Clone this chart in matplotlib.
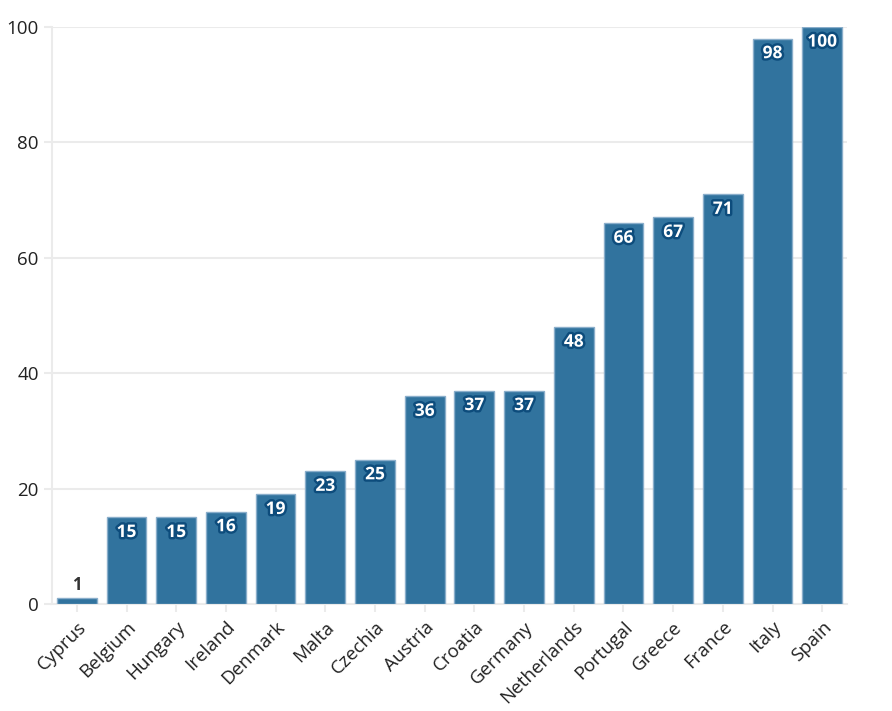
import matplotlib.pyplot as plt
import matplotlib.patheffects as pe

plt.rcParams['font.family'] = ['Open Sans', 'DejaVu Sans']

countries = ['Cyprus', 'Belgium', 'Hungary', 'Ireland', 'Denmark', 'Malta', 'Czechia',
             'Austria', 'Croatia', 'Germany', 'Netherlands', 'Portugal', 'Greece',
             'France', 'Italy', 'Spain']
values = [1, 15, 15, 16, 19, 23, 25, 36, 37, 37, 48, 66, 67, 71, 98, 100]

BAR = '#31739e'
EDGE = '#8aaecb'
GRID = '#ebebeb'

fig = plt.figure(figsize=(8.92, 7.11), dpi=100)
ax = fig.add_axes([0.0583, 0.1505, 0.8913, 0.8115])

x = range(len(countries))
ax.bar(x, values, width=0.8, color=BAR, edgecolor=EDGE, linewidth=1, zorder=3)

for i, v in enumerate(values):
    if v < 5:
        ax.annotate(str(v), (i, v), xytext=(0, 3), textcoords='offset points',
                    ha='center', va='bottom', fontsize=12, fontweight='bold',
                    color='#333333')
    else:
        t = ax.annotate(str(v), (i, v), xytext=(0, -4), textcoords='offset points',
                        ha='center', va='top', fontsize=12.5, fontweight='bold',
                        color='white', zorder=4)
        t.set_path_effects([pe.withStroke(linewidth=3.5, foreground='#0d4c7c')])

ax.set_xlim(-0.5, 15.5)
ax.set_ylim(0, 100)
ax.set_yticks([0, 20, 40, 60, 80, 100])
ax.set_xticks(list(x))
ax.set_xticklabels(countries, rotation=45, ha='right', rotation_mode='anchor')
ax.tick_params(axis='both', labelsize=13.5, colors=GRID, labelcolor='#222222',
               length=6, width=1.5)
ax.tick_params(axis='x', pad=4)
ax.grid(axis='y', color=GRID, linewidth=1.5, zorder=0)
for s in ['top', 'right']:
    ax.spines[s].set_visible(False)
for s in ['left', 'bottom']:
    ax.spines[s].set_color(GRID)
    ax.spines[s].set_linewidth(1.5)

fig.savefig('out.png', dpi=100)
